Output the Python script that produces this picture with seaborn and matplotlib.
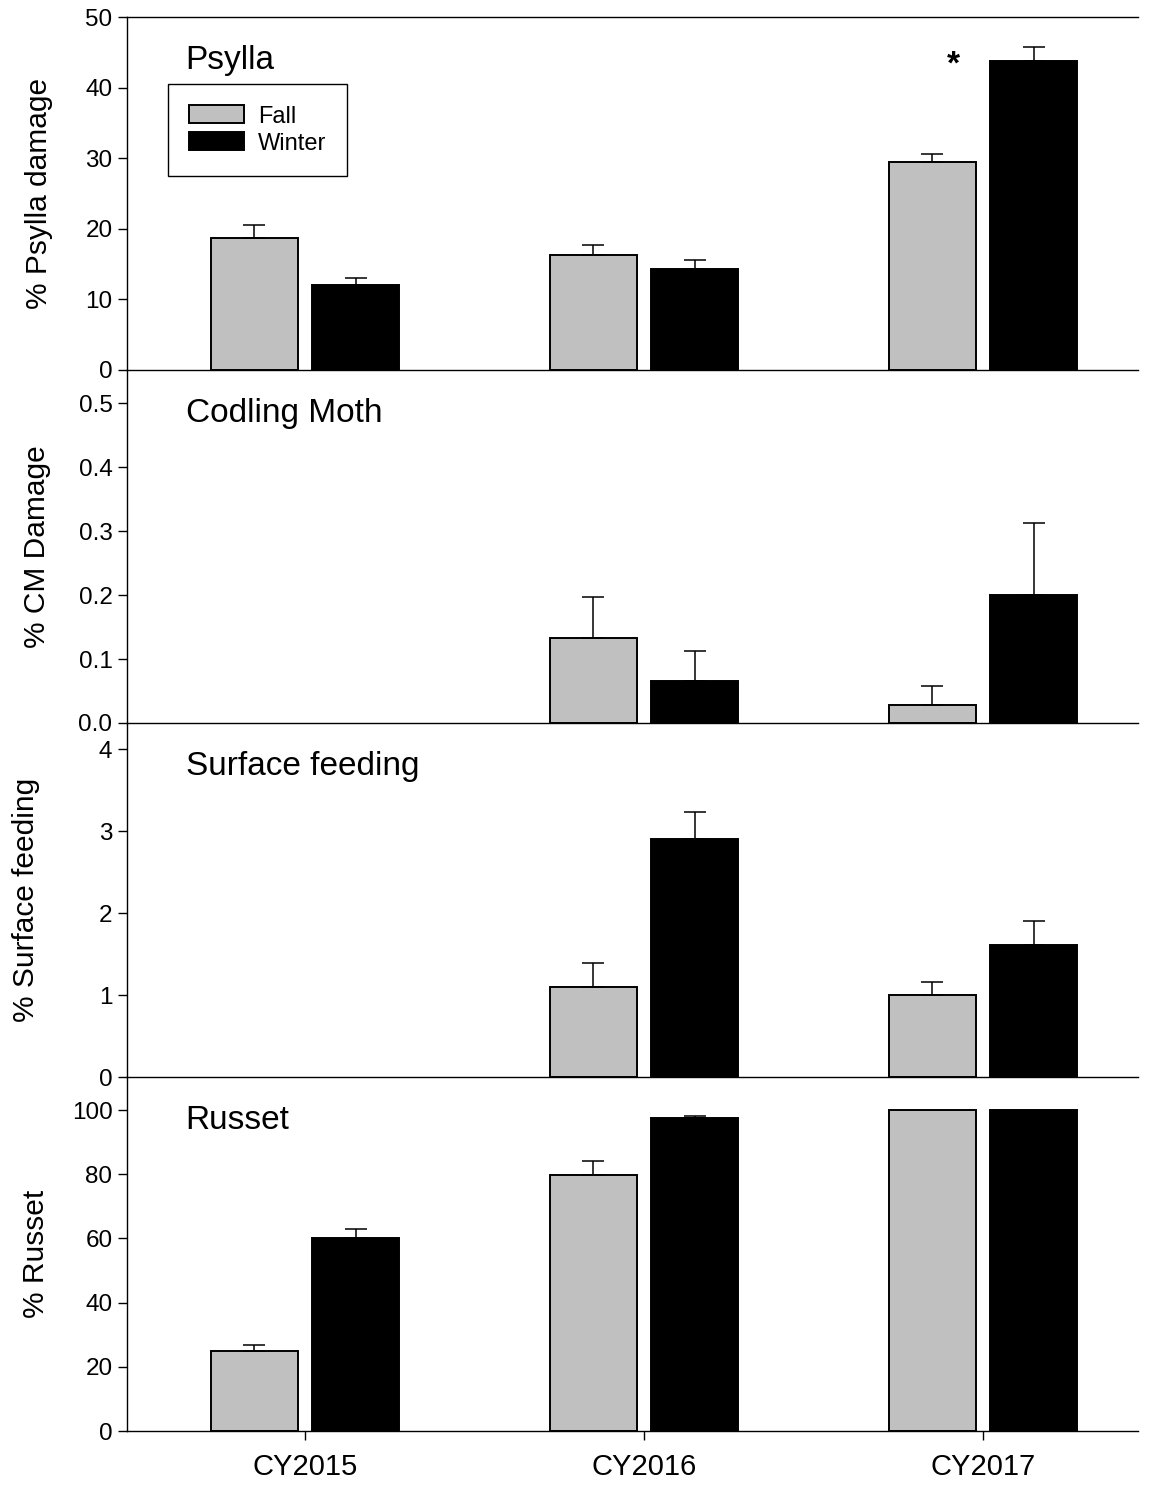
import numpy as np
import pandas as pd
import matplotlib
matplotlib.use("Agg")
import matplotlib.pyplot as plt
import seaborn as sns

# ---------------- data ----------------
years = ["CY2015", "CY2016", "CY2017"]
seasons = ["Fall", "Winter"]

psylla_fall = [18.7, 16.3, 29.5]
psylla_fall_se = [1.9, 1.4, 1.1]
psylla_winter = [12.1, 14.3, 43.7]
psylla_winter_se = [1.0, 1.3, 2.1]

cm_fall = [np.nan, 0.133, 0.028]
cm_fall_se = [np.nan, 0.064, 0.030]
cm_winter = [np.nan, 0.066, 0.200]
cm_winter_se = [np.nan, 0.047, 0.112]

surf_fall = [np.nan, 1.10, 1.00]
surf_fall_se = [np.nan, 0.29, 0.16]
surf_winter = [np.nan, 2.90, 1.61]
surf_winter_se = [np.nan, 0.34, 0.29]

russet_fall = [24.9, 79.8, 100.0]
russet_fall_se = [1.9, 4.3, 0.0]
russet_winter = [60.1, 97.5, 100.0]
russet_winter_se = [2.8, 0.6, 0.0]

panel_titles = ["Psylla", "Codling Moth", "Surface feeding", "Russet"]
ylabels = ["% Psylla damage", "% CM Damage", "% Surface feeding", "% Russet"]
ylims = [(0, 50), (0, 0.552), (0, 4.32), (0, 110.3)]
yticks = [np.arange(0, 51, 10), np.arange(0, 0.51, 0.1), np.arange(0, 5, 1), np.arange(0, 101, 20)]
ylabel_x = [-0.087, -0.089, -0.100, -0.090]

panels = [
    (psylla_fall, psylla_fall_se, psylla_winter, psylla_winter_se),
    (cm_fall, cm_fall_se, cm_winter, cm_winter_se),
    (surf_fall, surf_fall_se, surf_winter, surf_winter_se),
    (russet_fall, russet_fall_se, russet_winter, russet_winter_se),
]

# ---------------- style ----------------
sns.set_style("white")
plt.rcParams["font.family"] = ["Liberation Sans", "DejaVu Sans"]
plt.rcParams["axes.linewidth"] = 1.0
for key in ["text.color", "axes.labelcolor", "xtick.color", "ytick.color", "axes.edgecolor"]:
    plt.rcParams[key] = "black"

palette = {"Fall": "#C0C0C0", "Winter": "#000000"}

W, H = 1151, 1488
fig = plt.figure(figsize=(W / 100, H / 100), dpi=100)

left_px, right_px = 127, 1138
edges_px = [17, 370, 723, 1077, 1431]

axes = []
for i in range(4):
    top, bot = edges_px[i], edges_px[i + 1]
    ax = fig.add_axes([left_px / W, 1 - bot / H, (right_px - left_px) / W, (bot - top) / H])
    axes.append(ax)

for i, ax in enumerate(axes):
    f, fse, w, wse = panels[i]
    df = pd.DataFrame({
        "Year": years * 2,
        "Season": ["Fall"] * 3 + ["Winter"] * 3,
        "value": list(f) + list(w),
    })
    se_map = {"Fall": fse, "Winter": wse}
    sns.barplot(data=df, x="Year", y="value", hue="Season", order=years,
                hue_order=seasons, palette=palette, width=0.6, gap=0.143,
                edgecolor="black", linewidth=1.4, errorbar=None, ax=ax,
                legend=(i == 0))
    # upper-only error bars
    for cont, season in zip(ax.containers, seasons):
        for bar in cont:
            h = bar.get_height()
            if not np.isfinite(h):
                continue
            xc = bar.get_x() + bar.get_width() / 2
            k = int(round(xc))
            se = se_map[season][k]
            if not np.isfinite(se) or se <= 0:
                continue
            ax.errorbar([xc], [h], yerr=[[0], [se]], fmt="none", ecolor="black",
                        elinewidth=1.1, capsize=7.6, capthick=1.1, zorder=1)

    ax.set_xlim(-0.525, 2.457)
    ax.set_ylim(*ylims[i])
    ax.set_yticks(yticks[i])
    if i == 1:
        ax.set_yticklabels([f"{v:.1f}" for v in yticks[i]])
    else:
        ax.set_yticklabels([f"{v:g}" for v in yticks[i]])
    ax.set_xlabel("")
    ax.set_ylabel(ylabels[i], fontsize=21.5)
    ax.yaxis.set_label_coords(ylabel_x[i], 0.5)
    ax.yaxis.label.set_va("center")

    ax.tick_params(axis="y", direction="out", length=6.5, width=1.0,
                   labelsize=17.5, pad=4, left=True)
    if i == 3:
        ax.tick_params(axis="x", direction="out", length=6.5, width=1.0,
                       labelsize=21, pad=9, bottom=True)
    else:
        ax.tick_params(axis="x", bottom=False, labelbottom=False)

    for s in ["left", "bottom"]:
        ax.spines[s].set_visible(True)
        ax.spines[s].set_color("black")
        ax.spines[s].set_linewidth(1.0)
    ax.spines["right"].set_visible(False)
    ax.spines["top"].set_visible(i == 0)
    ax.spines["top"].set_color("black")
    ax.patch.set_alpha(0)

    ax.text(0.058, 0.878, panel_titles[i], transform=ax.transAxes,
            fontsize=24, ha="left", va="center")

# legend on top panel
ax0 = axes[0]
handles, labels = ax0.get_legend_handles_labels()
ax0.legend(handles, labels, loc="upper left", bbox_to_anchor=(0.0406, 0.810),
           borderaxespad=0, frameon=True, fancybox=False, framealpha=1,
           edgecolor="black", fontsize=17, handlelength=2.3, handleheight=0.8,
           handletextpad=0.6, labelspacing=0.2, borderpad=0.9, title=None)
ax0.get_legend().get_frame().set_linewidth(1.0)

# significance asterisk
ax0.text(1.912, 42.0, "*", fontsize=24, fontweight="bold", ha="center", va="baseline")

fig.savefig("out.png", dpi=100)
